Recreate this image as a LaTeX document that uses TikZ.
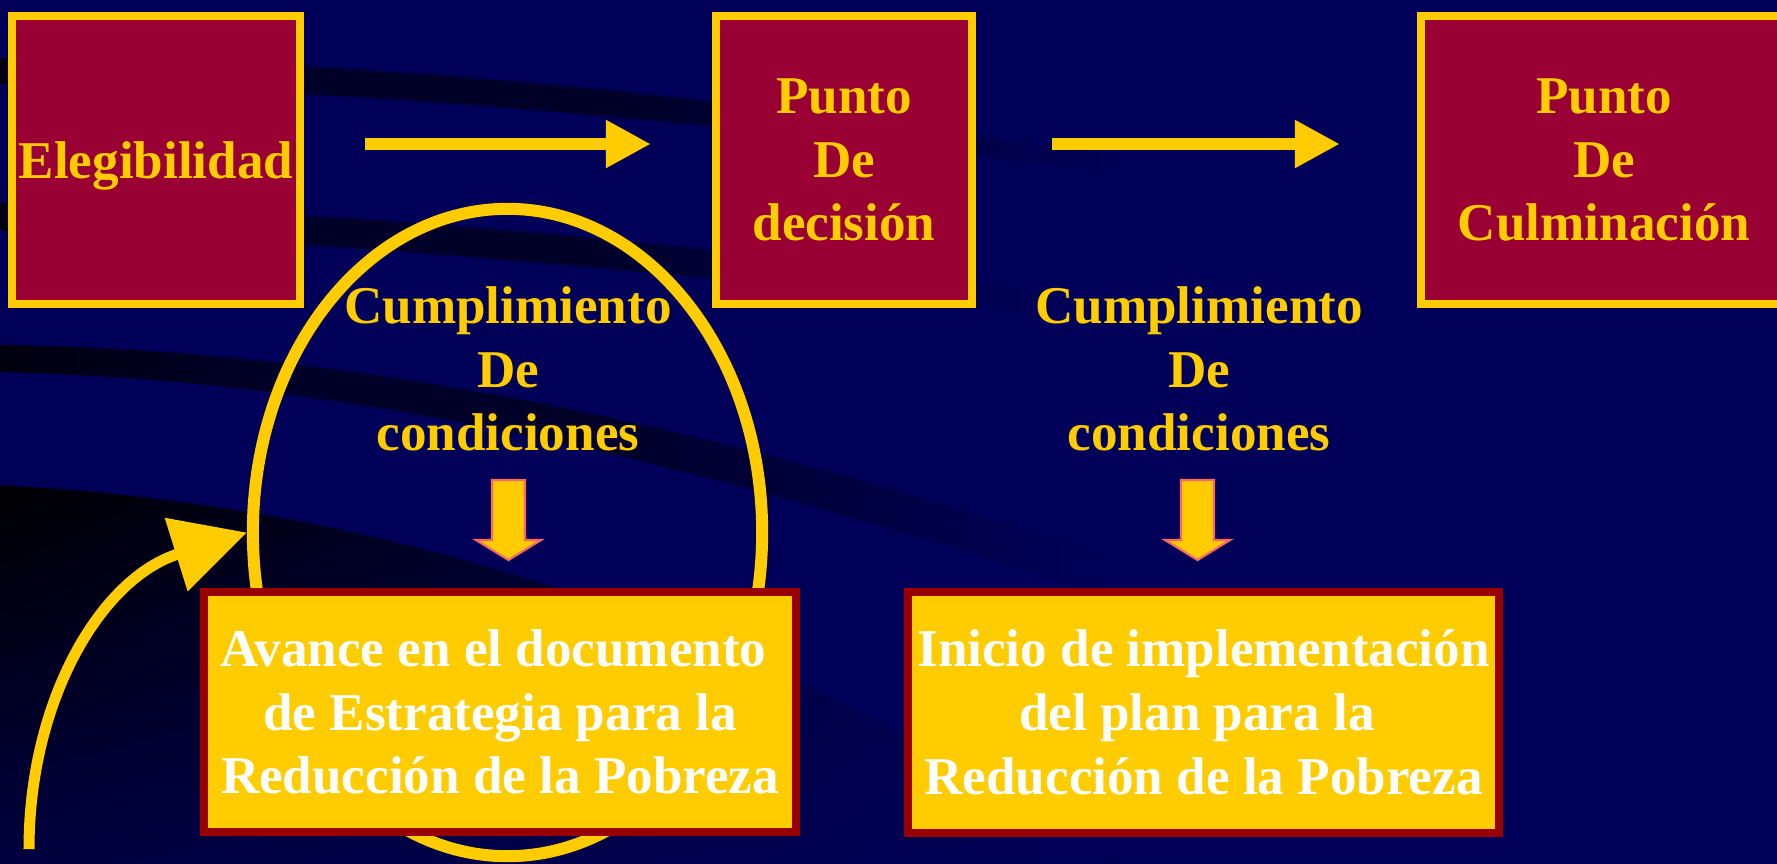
\documentclass[tikz,border=0pt]{standalone}
\usepackage{fontspec}
\setmainfont{Liberation Serif}
\usetikzlibrary{arrows.meta,shapes.geometric,calc,shadings}
\definecolor{bgc}{RGB}{0,0,88}
\definecolor{stripe}{RGB}{0,0,40}
\definecolor{stripeL}{RGB}{0,0,14}
\definecolor{yel}{RGB}{255,204,0}
\definecolor{crim}{RGB}{153,0,51}
\definecolor{dred}{RGB}{153,0,0}
\definecolor{salmon}{RGB}{255,102,102}
\pgfdeclarehorizontalshading{stripefade}{100bp}{color(0bp)=(stripeL); color(25bp)=(stripeL); color(35bp)=(stripe); color(47bp)=(stripe); color(66bp)=(bgc); color(100bp)=(bgc)}
\begin{document}
\begin{tikzpicture}[x=0.01cm,y=-0.01cm,
  txt/.style={font=\fontsize{15.1pt}{18.1pt}\selectfont\bfseries, align=center, inner sep=0pt},
  topbox/.style={txt, draw=yel, fill=crim, line width=0.08cm, text=yel, minimum height=2.88cm},
  botbox/.style={txt, draw=dred, fill=yel, line width=0.08cm, text=white},
  cond/.style={txt, text=yel},
  harrow/.style={draw=yel, line width=0.12cm, -{Triangle[length=0.45cm,width=0.45cm]}},
  curvarrow/.style={draw=yel, line width=0.11cm, -{Triangle[length=0.74cm,width=0.74cm]}},
  ring/.style={ellipse, draw=yel, line width=0.12cm, minimum width=5.09cm, minimum height=6.47cm, inner sep=0pt},
  blockarrow/.style={fill=yel, draw=salmon, line width=0.6pt, line join=miter},
  stripeband/.style={shading=stripefade},
  downarr/.pic={\path[blockarrow] (-16.5,0) -- (16.5,0) -- (16.5,60) -- (32.5,60) -- (0,80) -- (-32.5,60) -- (-16.5,60) -- cycle;}
]
\clip (0,0) rectangle (1777,863);
\useasboundingbox (0,0) rectangle (1777,863);
% background
\fill[bgc] (-20,-20) rectangle (1800,880);
\shade[upper left=black, upper right=bgc, lower left=bgc!75!black, lower right=bgc]
  (-5,485) .. controls (300,500) and (700,580) .. (1150,880) -- (-5,880) -- cycle;
\shade[stripeband] (-5,58) .. controls (300,60) and (650,75) .. (1400,200) -- (1400,212) .. controls (650,106) and (300,88) .. (-5,84) -- cycle;
\shade[stripeband] (-5,203) .. controls (400,212) and (800,250) .. (1300,330) -- (1300,348) .. controls (800,282) and (400,243) .. (-5,230) -- cycle;
\shade[stripeband] (-5,345) .. controls (400,350) and (800,440) .. (1350,640) -- (1350,680) .. controls (800,485) and (400,380) .. (-5,372) -- cycle;

% ellipse and curved arrow
\node[ring] (ell) at (507.5,532.5) {};
\coordinate (cstart) at (29,849);
\draw[curvarrow] (cstart) .. controls (29,700) and (101,578) .. (ell.west);

% top boxes
\node[topbox, minimum width=2.88cm, text depth=0pt] (b1) at (156,160) {Elegibilidad};
\node[topbox, minimum width=2.56cm] (b2) at (844,160) {Punto\\De\\decisión};
\node[topbox, minimum width=3.66cm] (b3) at (1604,160) {Punto\\De\\Culminación};

\draw[harrow, shorten <=0.61cm, shorten >=0.61cm] ($(b1.east)+(0,-16)$) -- ($(b2.west)+(0,-16)$);
\draw[harrow, shorten <=0.76cm, shorten >=0.77cm] ($(b2.east)+(0,-16)$) -- ($(b3.west)+(0,-16)$);

% conditions
\node[cond] (c1) at (508,369) {Cumplimiento\\De\\condiciones};
\node[cond] (c2) at (1199,369) {Cumplimiento\\De\\condiciones};

\pic at (508.5,480) {downarr};
\pic at (1197.5,480) {downarr};

% bottom boxes
\node[botbox, minimum width=5.92cm, minimum height=2.40cm] (bb1) at (500,712)
  {Avance en el documento\kern0.25em\\de Estrategia para la\\Reducción de la Pobreza};
\node[botbox, minimum width=5.91cm, minimum height=2.41cm] (bb2) at (1203.5,712.5)
  {Inicio de implementación\\del plan para la\kern0.25em\\Reducción de la Pobreza};
\end{tikzpicture}
\end{document}
